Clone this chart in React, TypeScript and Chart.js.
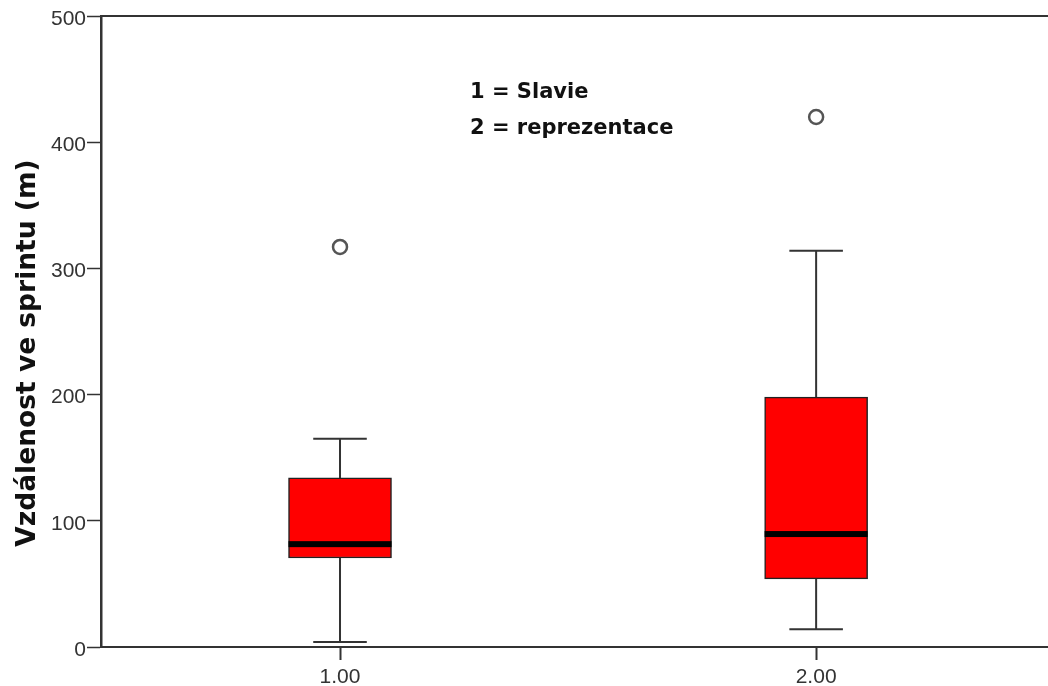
import { useEffect, useRef } from "react";
import { Chart, registerables } from "chart.js";

Chart.register(...registerables);

// Group positions on the x axis and their printed labels
const groups = [1, 2];
const groupLabels = ["1.00", "2.00"];

// Box-plot summary per group (metres)
const whiskerLow = [4, 14];
const q1 = [70.5, 54];
const median = [81.5, 89.5];
const q3 = [134, 198];
const whiskerHigh = [165, 314];

// Outlying observations: [group, value]
const outlierGroups = [1, 2];
const outlierValues = [317, 420];

const yTicks = [0, 100, 200, 300, 400, 500];
const yTitle = "Vzdálenost ve sprintu (m)";
const legendLines = ["1 = Slavie", "2 = reprezentace"];

const AXIS = "#333333";
const TICK_FONT = { family: "'Liberation Sans', Arial, sans-serif", size: 21 };

// Whiskers, caps and median bars drawn through the chart's scales
const boxParts = {
  id: "boxParts",
  afterDatasetsDraw(chart: any) {
    const { ctx } = chart;
    const y = chart.scales.y;
    const bars = chart.getDatasetMeta(0).data;
    ctx.save();
    groups.forEach((_g, i) => {
      const bar = bars[i];
      const cx = bar.x;
      const half = bar.width / 2;
      const capHalf = half * 0.52;
      const yLo = y.getPixelForValue(whiskerLow[i]);
      const yHi = y.getPixelForValue(whiskerHigh[i]);
      const yQ1 = y.getPixelForValue(q1[i]);
      const yQ3 = y.getPixelForValue(q3[i]);
      ctx.strokeStyle = AXIS;
      ctx.lineWidth = 2;
      ctx.beginPath();
      ctx.moveTo(cx, yQ3);
      ctx.lineTo(cx, yHi);
      ctx.moveTo(cx, yQ1);
      ctx.lineTo(cx, yLo);
      ctx.moveTo(cx - capHalf, yHi);
      ctx.lineTo(cx + capHalf, yHi);
      ctx.moveTo(cx - capHalf, yLo);
      ctx.lineTo(cx + capHalf, yLo);
      ctx.stroke();
      const ym = y.getPixelForValue(median[i]);
      ctx.fillStyle = "#000";
      ctx.fillRect(cx - half, ym - 3, bar.width, 6);
    });
    ctx.restore();
  },
};

// Frame top line, rotated y title and the group key
const decorations = {
  id: "decorations",
  afterDraw(chart: any) {
    const { ctx, chartArea } = chart;
    ctx.save();
    ctx.strokeStyle = AXIS;
    ctx.lineWidth = 2;
    ctx.beginPath();
    ctx.moveTo(chartArea.left, chartArea.top);
    ctx.lineTo(chart.width, chartArea.top);
    ctx.stroke();

    ctx.fillStyle = "#111";
    ctx.font = "bold 21px 'DejaVu Sans', sans-serif";
    ctx.textAlign = "left";
    ctx.textBaseline = "alphabetic";
    ctx.fillText(legendLines[0], 470, 98);
    ctx.fillText(legendLines[1], 470, 134);

    ctx.translate(28, 353);
    ctx.rotate(-Math.PI / 2);
    ctx.font = "bold 26.5px 'DejaVu Sans', sans-serif";
    ctx.textAlign = "center";
    ctx.textBaseline = "middle";
    ctx.fillText(yTitle, 0, 0);
    ctx.restore();
  },
};

export default function App() {
  const canvasRef = useRef<HTMLCanvasElement | null>(null);

  useEffect(() => {
    if (!canvasRef.current) return;
    const chart = new Chart(canvasRef.current, {
      type: "bar",
      data: {
        datasets: [
          {
            type: "bar",
            data: groups.map((g, i) => ({ x: g, y: [q1[i], q3[i]] })) as any,
            backgroundColor: "#ff0000",
            borderColor: "#222",
            borderWidth: 1.5,
            borderSkipped: false,
            barThickness: 103,
          },
          {
            type: "scatter",
            data: outlierGroups.map((g, i) => ({ x: g, y: outlierValues[i] })),
            pointRadius: 7,
            pointBorderWidth: 2.5,
            pointBackgroundColor: "#fff",
            pointBorderColor: "#555",
            showLine: false,
          } as any,
        ],
      },
      options: {
        animation: false,
        responsive: false,
        devicePixelRatio: 1,
        layout: { autoPadding: false, padding: { top: 16, right: 0, bottom: 0, left: 0 } },
        plugins: { legend: { display: false }, tooltip: { enabled: false } },
        scales: {
          x: {
            type: "linear",
            offset: false,
            min: 0.498,
            max: 2.487,
            afterBuildTicks: (s: any) => {
              s.ticks = groups.map((v) => ({ value: v }));
            },
            afterFit: (s: any) => {
              s.height = 39;
              s.paddingRight = 0;
              s.paddingLeft = 0;
            },
            grid: {
              offset: false,
              drawOnChartArea: false,
              tickLength: 13,
              tickColor: AXIS,
              tickWidth: 2,
            },
            border: { display: true, color: AXIS, width: 2 },
            ticks: {
              font: TICK_FONT,
              color: "#333",
              padding: 5,
              maxRotation: 0,
              callback: (v: any) => groupLabels[groups.indexOf(Number(v))] ?? "",
            },
          },
          y: {
            min: 0,
            max: 500,
            afterBuildTicks: (s: any) => {
              s.ticks = yTicks.map((v) => ({ value: v }));
            },
            afterFit: (s: any) => {
              s.width = 101;
            },
            grid: {
              drawOnChartArea: false,
              tickLength: 14,
              tickColor: AXIS,
              tickWidth: 1.5,
            },
            border: { display: true, color: AXIS, width: 2.5 },
            ticks: {
              font: TICK_FONT,
              color: "#333",
              padding: 1,
              labelOffset: 3,
            },
          },
        },
      },
      plugins: [boxParts, decorations],
    });
    return () => chart.destroy();
  }, []);

  return (
    <div style={{ position: "fixed", left: 0, top: 0, width: 1048, height: 686, background: "#fff" }}>
      <canvas ref={canvasRef} width={1048} height={686} />
    </div>
  );
}
